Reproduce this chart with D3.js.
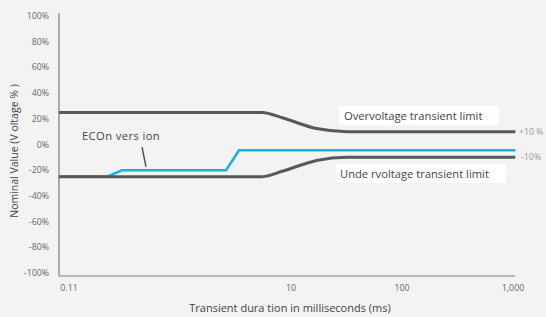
<!DOCTYPE html>
<html>
<head>
<meta charset="utf-8">
<script src="https://cdn.jsdelivr.net/npm/d3@7"></script>
<style>
  body { margin: 0; background: #f3f3f3; }
  svg { display: block; font-family: 'Open Sans', sans-serif; }
</style>
</head>
<body>
<div id="chart"></div>
<script>
const yTicks = [100, 80, 60, 40, 20, 0, -20, -40, -60, -80, -100];
const xTicks = [0.1, 10, 100, 1000];
const xTickLabels = ['0.11', '10', '100', '1,000'];

// [ms, %]
const overLimit = [[0.081, 25], [5.5, 25], [8.5, 20.6], [17, 12.4], [32, 10], [1050, 10]];
const underLimit = [[0.081, -25], [5.5, -25], [8.5, -20.6], [17, -12.4], [32, -10], [1050, -10]];
const econ = [[0.081, -25], [0.22, -25], [0.3, -20], [2.6, -20], [3.4, -4.5], [1050, -4.5]];

const width = 546, height = 317;
const svg = d3.select('#chart').append('svg')
  .attr('width', width)
  .attr('height', height);

const x = d3.scaleLog().domain([0.1, 1000]).range([69, 513]);
const y = d3.scaleLinear().domain([-100, 100]).range([273, 16]);

// axes lines
svg.append('line')
  .attr('x1', 59).attr('x2', 59)
  .attr('y1', 13).attr('y2', 276)
  .attr('stroke', '#7a7d80').attr('stroke-width', 1.2);
svg.append('line')
  .attr('x1', 59).attr('x2', 515)
  .attr('y1', 276).attr('y2', 276)
  .attr('stroke', '#7a7d80').attr('stroke-width', 1.2);

svg.append('g')
  .selectAll('text')
  .data(yTicks)
  .join('text')
  .attr('x', 49)
  .attr('y', (d) => y(d))
  .attr('dy', '0.35em')
  .attr('text-anchor', 'end')
  .attr('font-size', 8.8)
  .attr('fill', '#666')
  .text((d) => d + '%');

svg.append('g')
  .selectAll('text')
  .data(xTicks)
  .join('text')
  .attr('x', (d) => x(d))
  .attr('y', 291)
  .attr('text-anchor', 'middle')
  .attr('font-size', 8.8)
  .attr('fill', '#666')
  .text((d, i) => xTickLabels[i]);

const line = d3.line()
  .x((d) => x(d[0]))
  .y((d) => y(d[1]))
  .curve(d3.curveMonotoneX);

const lineStraight = d3.line()
  .x((d) => x(d[0]))
  .y((d) => y(d[1]));

svg.append('path')
  .attr('d', lineStraight(econ))
  .attr('fill', 'none')
  .attr('stroke', '#14b4e6')
  .attr('stroke-width', 2.6);

[overLimit, underLimit].forEach((data) => {
  svg.append('path')
    .attr('d', line(data))
    .attr('fill', 'none')
    .attr('stroke', '#55585c')
    .attr('stroke-width', 3);
});

// labels with white boxes
function boxLabel(txt, bx, by, bw, bh, tx, ty) {
  svg.append('rect')
    .attr('x', bx).attr('y', by)
    .attr('width', bw).attr('height', bh)
    .attr('fill', '#fff');
  svg.append('text')
    .attr('x', tx).attr('y', ty)
    .attr('font-size', 11.2)
    .attr('fill', '#444')
    .text(txt);
}
boxLabel('Overvoltage transient limit', 339, 106, 160, 19, 344, 120);
boxLabel('Unde rvoltage transient limit', 336, 164, 170, 19, 340, 178);

svg.append('text')
  .attr('x', 519).attr('y', y(10))
  .attr('dy', '0.35em')
  .attr('font-size', 8.8)
  .attr('fill', '#999')
  .text('+10 %');
svg.append('text')
  .attr('x', 521).attr('y', y(-10))
  .attr('dy', '0.35em')
  .attr('font-size', 8.8)
  .attr('fill', '#999')
  .text('-10%');

svg.append('text')
  .attr('x', 82).attr('y', 140)
  .attr('font-size', 11.2)
  .attr('fill', '#444')
  .attr('letter-spacing', 0.4)
  .text('ECOn vers ion');
svg.append('line')
  .attr('x1', 142).attr('y1', 147)
  .attr('x2', 146).attr('y2', 167)
  .attr('stroke', '#444').attr('stroke-width', 1.3);

svg.append('text')
  .attr('x', 290).attr('y', 312)
  .attr('text-anchor', 'middle')
  .attr('font-size', 11)
  .attr('fill', '#444')
  .text('Transient dura tion in milliseconds   (ms)');

svg.append('text')
  .attr('transform', 'translate(18,151) rotate(-90)')
  .attr('text-anchor', 'middle')
  .attr('font-size', 10.5)
  .attr('fill', '#444')
  .text('Nominal Value (V oltage % )');
</script>
</body>
</html>
